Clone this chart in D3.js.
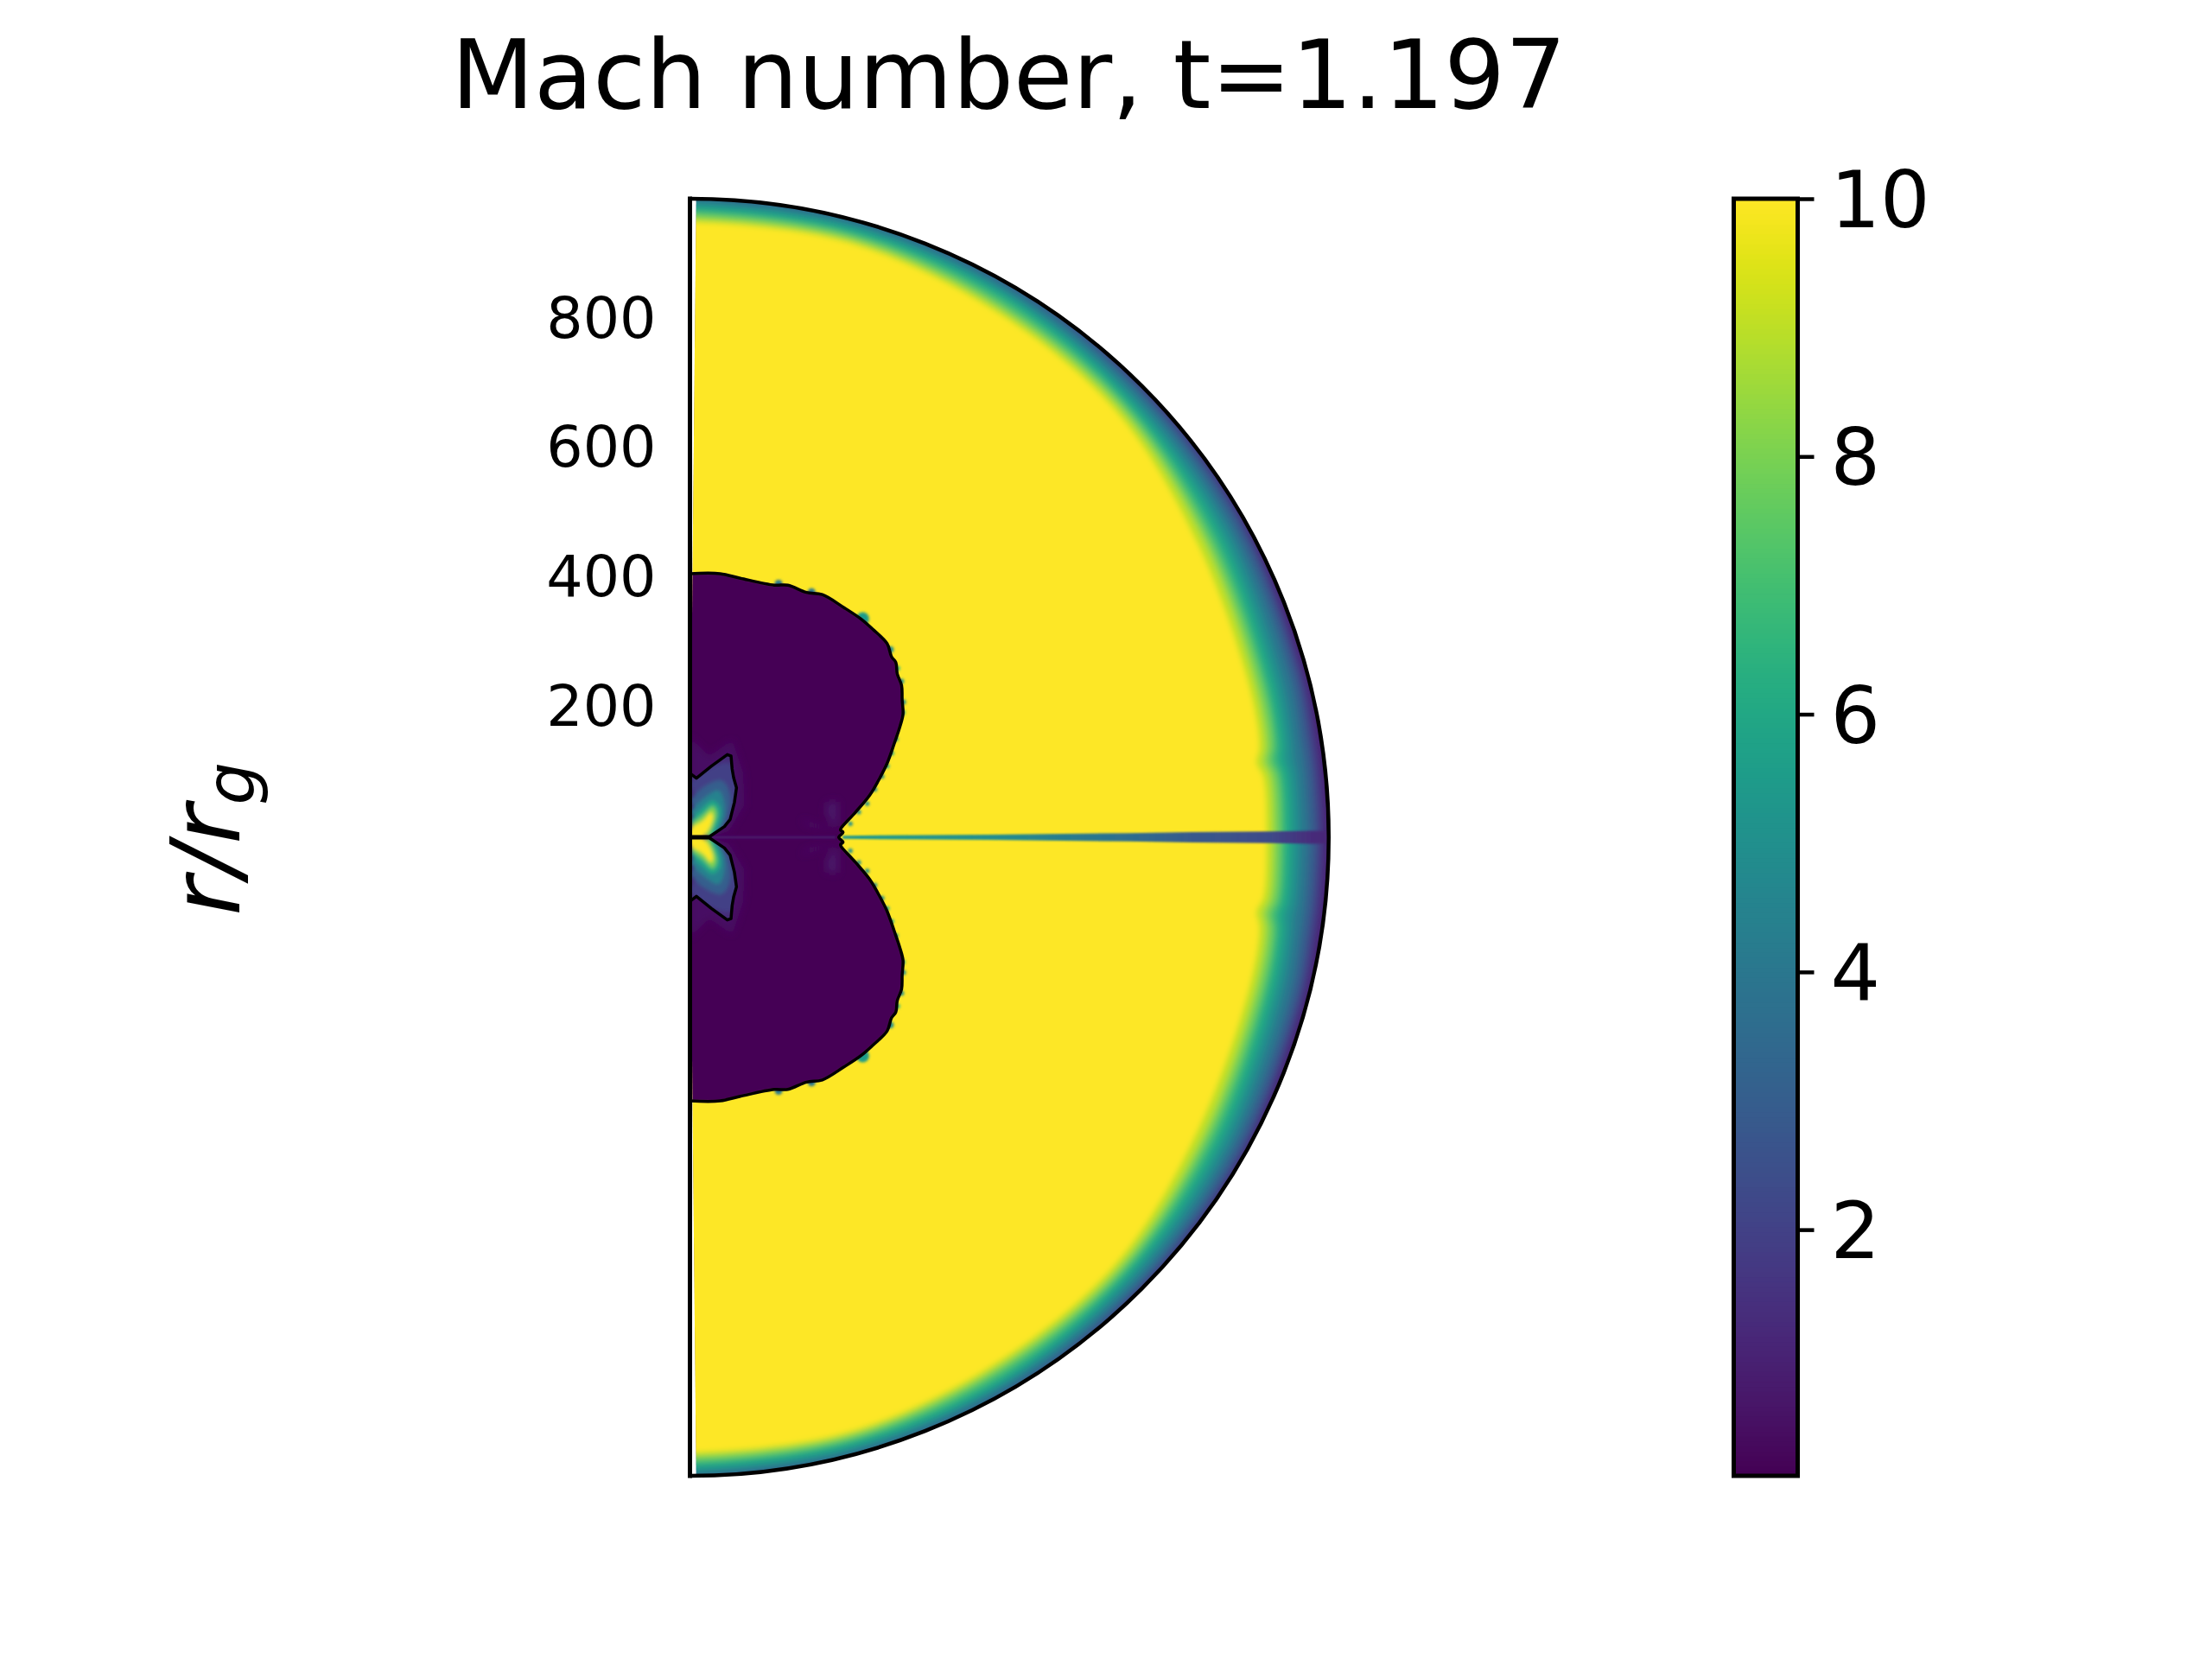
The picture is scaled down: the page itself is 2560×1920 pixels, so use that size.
<!DOCTYPE html>
<html>
<head>
<meta charset="utf-8">
<script src="https://cdnjs.cloudflare.com/ajax/libs/d3/7.8.5/d3.min.js"></script>
<style>
body { margin: 0; background: white; }
text { font-family: "DejaVu Sans"; }
</style>
</head>
<body>
<div class="chart"></div>
<script>
// values, radii and positions in r/r_g
var titleText = "Mach number, t=1.197";
var radialTicks = [200, 400, 600, 800];
var colorTicks = [2, 4, 6, 8, 10];
var rMax = 987;
var vMin = 0.09, vMax = 10;
var poleGap = 0.56; // degrees of empty wedge next to the axis

// outer shell: depth below rMax of each Mach level, by latitude
var shellLat = [0, 6, 7.5, 9, 15, 30, 45, 60, 75, 90];
var shellLevels = [1.2, 2, 3, 4, 5, 6, 7, 8, 9, 10];
var shellDepth = [
	[3, 3, 3, 3, 1, -5, -10, -15, -20, -25],
	[9, 9, 9, 9, 7, 1, -5, -10, -15, -20],
	[19, 19, 19, 19, 16, 9, 4, -4, -8, -10],
	[31, 31, 31, 31, 27, 19, 11, 4, 1, 0],
	[44, 44, 46, 44, 40, 29, 19, 11, 7, 5],
	[56, 56, 60, 56, 52, 40, 27, 17, 13, 12],
	[67, 67, 72, 67, 63, 51, 35, 25, 20, 19],
	[75, 75, 82, 75, 71, 60, 41, 33, 25, 24],
	[85, 85, 92, 85, 81, 69, 48, 40, 31, 31],
	[96, 96, 104, 96, 92, 81, 56, 47, 36, 36]
];

// slow cavity contour, upper half (the lower half mirrors it)
var cavityX = [0, 46.5, 77.7, 130.3, 151.2, 180.1, 204.6, 238, 264.8, 282.6, 304.8, 311.5, 318.2, 320.4, 327.1, 328, 329.3, 324.9, 316, 304.8, 293.7, 278.1, 255.8, 233.5, 232.7, 236.7, 230];
var cavityY = [407.5, 407.5, 400.4, 389.7, 389.7, 378.5, 375, 355, 337.1, 321.5, 299.3, 279.2, 270.3, 252.5, 234.7, 212.4, 190.2, 172.3, 145.6, 114.5, 92.2, 65.5, 38.7, 14, 11, 7.6, 0];

// small spots just outside the cavity edge
var spotX = [137, 188, 267, 310, 321, 327, 330, 329, 319, 312, 305, 297, 286, 274, 261, 248];
var spotY = [392, 379, 338, 290, 261, 241, 209, 193, 152, 130, 110, 94, 74, 52, 39, 21];
var spotV = [4, 4, 5.5, 5, 7, 5, 5, 6, 6, 6, 6, 5, 5, 5, 5, 5];
var spotSize = [6, 6, 10, 5, 4, 4, 4, 4, 3.5, 3.5, 3.5, 3.5, 3.5, 3.5, 3.5, 3.5];

// inner lobe contour and its bands
var lobeX = [0, 10, 33.2, 57.7, 63.5, 65.2, 67.5, 71.9, 68.8, 62.1, 53.2, 33.2, 30, 0];
var lobeY = [98.9, 91.3, 110, 127.8, 125.6, 105.5, 92.2, 76.6, 54.3, 27.6, 16.5, 3.1, 1, 1];
var lobeBase = 1.3;
var bandV = [2, 3, 4.5, 6, 8, 10];
var bandX = [
	[0, 28.7, 62.1, 73.2, 66.5, 37.6],
	[0, 19.8, 48.7, 62.1, 57.6, 37.6],
	[0, 19.8, 44.3, 53.2, 51, 35.4],
	[0, 17.6, 35.4, 46.5, 44.3, 33.1],
	[0, 19.8, 35.4, 41.2, 37.6, 28.7],
	[0, 0, 19.8, 33.1, 35.4, 28.7, 19.8]
];
var bandY = [
	[83.2, 105.5, 114.4, 74.3, 29.8, 0],
	[56.5, 76.6, 87.7, 65.4, 29.8, 0],
	[38.7, 58.7, 72.1, 52.1, 25.3, 0],
	[25.3, 43.2, 56.5, 45.4, 20.9, 0],
	[18.7, 34.3, 47.6, 36.5, 20.9, 0],
	[0, 12, 25.3, 38.7, 29.8, 12, 0]
];

// faint patches inside the cavity
var patchV = [0.55, 0.65, 0.6];
var patchX = [
	[0, 30, 65, 82, 84, 60, 30, 0],
	[171.2, 197.9, 229, 197.9, 180.1],
	[211.3, 229, 229, 218, 209]
];
var patchY = [
	[155, 125, 150, 100, 50, 10, 0, 0],
	[27.6, 18.7, 11, 14.2, 18.7],
	[54.3, 55.6, 14.2, 20.9, 38.7]
];

// thin equatorial jet
var jetR = [236, 300, 460, 678, 777, 896, 961, 987];
var jetHalf = [2.5, 3, 4, 6.5, 8, 9, 10, 10];
var jetV = [5.3, 5.3, 5, 3.6, 2.8, 2.3, 1.3, 1.1];

var width = 2560, height = 1920;
var x0 = 798.5, xR = 1537.5;
var yTop = 230, yBottom = 1708;

var svg = d3.select(".chart")
	.append("svg")
	.attr("width", width)
	.attr("height", height)
	.style("display", "block");

var x = d3.scaleLinear().domain([0, rMax]).range([x0, xR]);
var y = d3.scaleLinear().domain([-rMax, rMax]).range([yBottom, yTop]);
var rad = d3.scaleLinear().domain([0, rMax]).range([0, xR - x0]);
var colorY = d3.scaleLinear().domain([vMin, vMax]).range([yBottom, yTop]);

function mach(v) {
	return d3.interpolateViridis((v - vMin) / (vMax - vMin));
}

var cx = x(0), cy = y(0);
var defs = svg.append("defs");

function addBlur(id, s) {
	defs.append("filter")
		.attr("id", id)
		.attr("filterUnits", "userSpaceOnUse")
		.attr("x", 0).attr("y", 0)
		.attr("width", width).attr("height", height)
		.append("feGaussianBlur")
		.attr("stdDeviation", s);
}
addBlur("blurShell", 3);
addBlur("blurEdge", 0.9);
addBlur("blurSpot", 1.6);
addBlur("blurBand", 2.2);
addBlur("blurPatch", 5);

var gap = poleGap * Math.PI / 180;
var halfDisc = d3.arc()
	.innerRadius(0)
	.outerRadius(rad(rMax))
	.startAngle(gap)
	.endAngle(Math.PI - gap);

defs.append("clipPath").attr("id", "fieldClip")
	.append("path")
	.attr("transform", "translate(" + cx + "," + cy + ")")
	.attr("d", halfDisc());

var line = d3.line()
	.x(function(d) { return x(d[0]); })
	.y(function(d) { return y(d[1]); });

var smoothLine = d3.line()
	.x(function(d) { return x(d[0]); })
	.y(function(d) { return y(d[1]); })
	.curve(d3.curveCatmullRom.alpha(0.5));

var field = svg.append("g").attr("clip-path", "url(#fieldClip)");

// base of the shell
field.append("path")
	.attr("transform", "translate(" + cx + "," + cy + ")")
	.attr("d", halfDisc())
	.attr("fill", mach(1.1));

// Mach levels of the shell, lowest first
var radial = d3.lineRadial()
	.angle(function(d) { return d[0]; })
	.radius(function(d) { return rad(d[1]); })
	.curve(d3.curveCatmullRom.alpha(0.5));

function shellPoints(depths) {
	var pts = [[-0.1, rMax - depths[depths.length - 1]]];
	for (var i = shellLat.length - 1; i >= 0; i--) {
		pts.push([(90 - shellLat[i]) * Math.PI / 180, rMax - depths[i]]);
	}
	for (var j = 1; j < shellLat.length; j++) {
		pts.push([(90 + shellLat[j]) * Math.PI / 180, rMax - depths[j]]);
	}
	pts.push([Math.PI + 0.1, rMax - depths[depths.length - 1]]);
	return pts;
}

field.append("g")
	.attr("filter", "url(#blurShell)")
	.append("g")
	.attr("transform", "translate(" + cx + "," + cy + ")")
	.selectAll("path")
	.data(shellLevels)
	.enter()
	.append("path")
	.attr("fill", function(d) { return mach(d); })
	.attr("d", function(d, i) { return radial(shellPoints(shellDepth[i])) + "Z"; });

// spots on the edge, both halves
var spotG = field.append("g").attr("filter", "url(#blurSpot)");
[1, -1].forEach(function(side) {
	spotG.selectAll(null)
		.data(spotX)
		.enter()
		.append("circle")
		.attr("cx", function(d) { return x(d); })
		.attr("cy", function(d, i) { return y(side * spotY[i]); })
		.attr("r", function(d, i) { return rad(spotSize[i]); })
		.attr("fill", function(d, i) { return mach(spotV[i]); });
});

// jet, coloured along its length
var jetGrad = defs.append("linearGradient")
	.attr("id", "jetGrad")
	.attr("gradientUnits", "userSpaceOnUse")
	.attr("x1", x(jetR[0])).attr("x2", x(jetR[jetR.length - 1]))
	.attr("y1", 0).attr("y2", 0);
jetGrad.selectAll("stop")
	.data(jetR)
	.enter()
	.append("stop")
	.attr("offset", function(d) { return (d - jetR[0]) / (jetR[jetR.length - 1] - jetR[0]); })
	.attr("stop-color", function(d, i) { return mach(jetV[i]); });

var jetPts = jetR.map(function(d, i) { return [d, jetHalf[i]]; })
	.concat(jetR.map(function(d, i) { return [d, -jetHalf[i]]; }).reverse());
field.append("path")
	.attr("d", line(jetPts) + "Z")
	.attr("fill", "url(#jetGrad)")
	.attr("filter", "url(#blurEdge)");

// cavity
var upper = cavityX.map(function(d, i) { return [d, cavityY[i]]; });
var lower = upper.map(function(d) { return [d[0], -d[1]]; }).reverse();
var cavityPts = upper.concat(lower.slice(1));
var cavityFill = [[-20, 407.5]].concat(cavityPts, [[-20, -407.5]]);

field.append("path")
	.attr("d", smoothLine(cavityFill) + "Z")
	.attr("fill", mach(vMin))
	.attr("filter", "url(#blurEdge)");

// faint patches, both halves
[1, -1].forEach(function(side) {
	var g = field.append("g").attr("filter", "url(#blurPatch)");
	patchV.forEach(function(v, k) {
		var pts = patchX[k].map(function(d, i) { return [d, side * patchY[k][i]]; });
		g.append("path")
			.attr("d", line(pts) + "Z")
			.attr("fill", mach(v));
	});
});

// faint streak along the equator
field.append("path")
	.attr("d", line([[30, 0], [225, 0]]))
	.attr("stroke", mach(0.75))
	.attr("stroke-width", 3)
	.attr("fill", "none")
	.attr("filter", "url(#blurEdge)");

// lobes
[1, -1].forEach(function(side, n) {
	var pts = lobeX.map(function(d, i) { return [d, side * lobeY[i]]; });
	defs.append("clipPath").attr("id", "lobeClip" + n)
		.append("path")
		.attr("d", line(pts) + "Z");

	var lobe = field.append("g").attr("clip-path", "url(#lobeClip" + n + ")");
	lobe.append("path")
		.attr("d", line(pts) + "Z")
		.attr("fill", mach(lobeBase));
	var bands = lobe.append("g").attr("filter", "url(#blurBand)");
	bandV.forEach(function(v, k) {
		var band = bandX[k].map(function(d, i) { return [d, side * bandY[k][i]]; });
		bands.append("path")
			.attr("d", smoothLine(band) + "Z")
			.attr("fill", mach(v));
	});

	svg.append("path")
		.attr("d", line(pts))
		.attr("fill", "none")
		.attr("stroke", "black")
		.attr("stroke-width", 3.5)
		.attr("stroke-linejoin", "round");
});

// cavity contour
svg.append("path")
	.attr("d", smoothLine(cavityPts))
	.attr("fill", "none")
	.attr("stroke", "black")
	.attr("stroke-width", 3.5)
	.attr("stroke-linejoin", "round");

// plot outline
var outline = d3.arc()
	.innerRadius(rad(rMax))
	.outerRadius(rad(rMax))
	.startAngle(0)
	.endAngle(Math.PI);
svg.append("path")
	.attr("transform", "translate(" + cx + "," + cy + ")")
	.attr("d", outline() )
	.attr("fill", "none")
	.attr("stroke", "black")
	.attr("stroke-width", 4.5);
svg.append("path")
	.attr("d", line([[0, rMax], [0, -rMax]]))
	.attr("stroke", "black")
	.attr("stroke-width", 5)
	.attr("stroke-linecap", "square");

// radial tick labels
var yAxis = svg.append("g")
	.attr("transform", "translate(" + cx + ",0)")
	.call(d3.axisLeft(y).tickValues(radialTicks).tickSize(0).tickPadding(39).tickFormat(d3.format("d")));
yAxis.select(".domain").remove();
yAxis.selectAll("text")
	.attr("font-size", 66.67)
	.attr("font-family", "DejaVu Sans")
	.attr("dy", "0.3em")
	.attr("fill", "black");

// colorbar
var cbX = 2006.5, cbRight = 2080.5;
var cells = d3.range(256);
var cellH = (yBottom - yTop) / 256;
svg.append("g")
	.selectAll("rect")
	.data(cells)
	.enter()
	.append("rect")
	.attr("x", cbX)
	.attr("width", cbRight - cbX)
	.attr("y", function(d) { return yBottom - (d + 1) * cellH; })
	.attr("height", cellH + 1)
	.attr("fill", function(d) { return d3.interpolateViridis(d / 255); });
svg.append("rect")
	.attr("x", cbX)
	.attr("y", yTop)
	.attr("width", cbRight - cbX)
	.attr("height", yBottom - yTop)
	.attr("fill", "none")
	.attr("stroke", "black")
	.attr("stroke-width", 5);

var cAxis = svg.append("g")
	.attr("transform", "translate(" + cbRight + ",0)")
	.call(d3.axisRight(colorY).tickValues(colorTicks).tickSize(19).tickPadding(19).tickFormat(d3.format("d")));
cAxis.select(".domain").remove();
cAxis.selectAll("line").attr("stroke", "black").attr("stroke-width", 4.5);
cAxis.selectAll("text")
	.attr("font-size", 90.5)
	.attr("font-family", "DejaVu Sans")
	.attr("dy", "0.36em")
	.attr("fill", "black");

// title
svg.append("text")
	.attr("x", 1167.5)
	.attr("y", 125)
	.attr("text-anchor", "middle")
	.attr("font-size", 111.2)
	.attr("fill", "black")
	.text(titleText);

// y label
var yLabel = svg.append("text")
	.attr("transform", "translate(277,971) rotate(-90)")
	.attr("text-anchor", "middle")
	.attr("font-size", 111)
	.attr("font-style", "italic")
	.attr("fill", "black");
yLabel.append("tspan").text("r/r");
yLabel.append("tspan")
	.attr("font-size", 78)
	.attr("dy", 17)
	.text("g");
</script>
</body>
</html>
